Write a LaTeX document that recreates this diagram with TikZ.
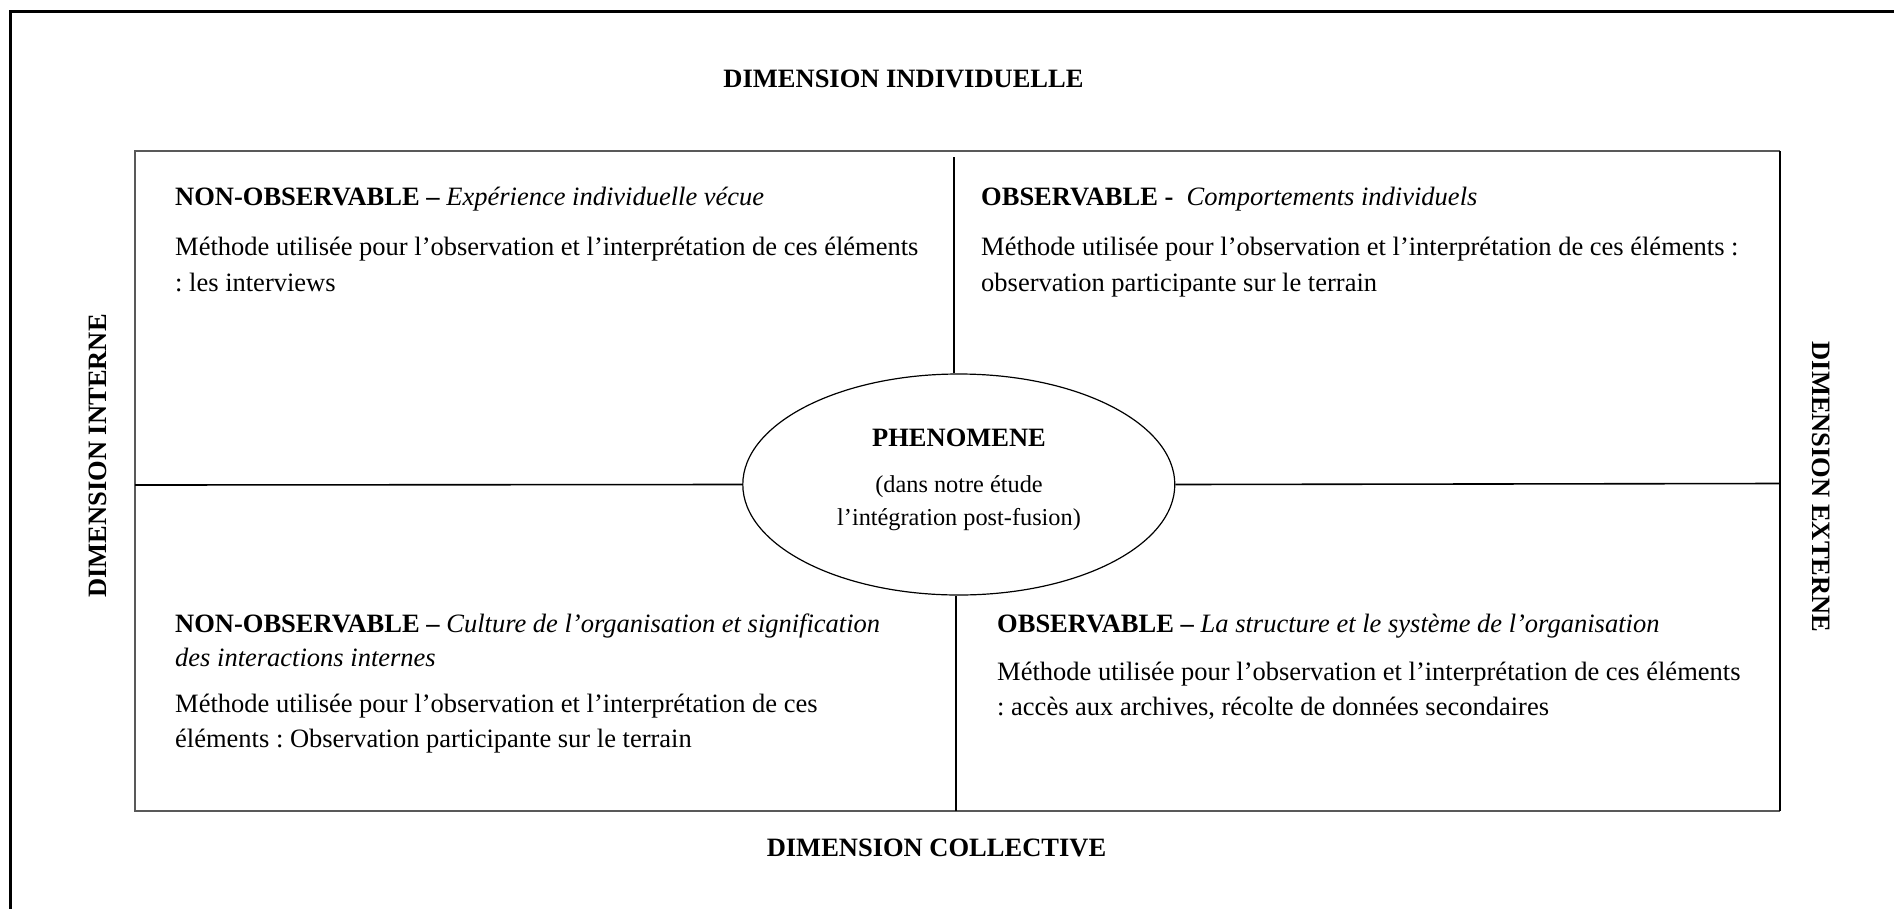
\documentclass[tikz,border=0pt]{standalone}
\usepackage{fontspec}
\setmainfont{Liberation Serif}
\usetikzlibrary{shapes.geometric}
\frenchspacing
\begin{document}
\begin{tikzpicture}[x=1pt,y=-1pt,
  frame/.style={line width=3pt, line cap=rect},
  boxline/.style={line width=1.6pt, draw=black!65},
  divline/.style={line width=1.6pt, draw=black},
  txt/.style={anchor=base west, inner sep=0pt, font=\fontsize{26.5}{35}\selectfont},
  dimlab/.style={anchor=base, inner sep=0pt, font=\fontsize{26.5}{30}\selectfont\bfseries},
  phtxt/.style={anchor=base, inner sep=0pt, font=\fontsize{24.3}{28}\selectfont},
  phbold/.style={anchor=base, inner sep=0pt, font=\fontsize{26.5}{30}\selectfont\bfseries},
  ell/.style={ellipse, draw, line width=1.2pt, inner sep=0pt, minimum width=432pt, minimum height=221pt}
]
\useasboundingbox (0,0) rectangle (1894,908);

% outer frame (only top and left visible)
\coordinate (oBL) at (10,912);
\coordinate (oTL) at (10,11);
\coordinate (oTR) at (1898,11);
\draw[frame] (oBL) -- (oTL) -- (oTR);

% inner box
\coordinate (bTL) at (135,151);
\coordinate (bTR) at (1780,151);
\coordinate (bBR) at (1780,811);
\coordinate (bBL) at (135,811);
\draw[boxline] (bTR) -- (bTL) -- (bBL) -- (bBR);
\draw[divline] (bTR) -- (bBR);

% ellipse
\node[ell] (ph) at (958.8,484.5) {};

% dividers
\coordinate (vTop) at (954,157);
\coordinate (vBot) at (956,811);
\coordinate (hL) at (135,485);
\coordinate (hR) at (1780,483.5);
\draw[divline] (vTop) -- (vTop |- ph.north);
\draw[divline] (vBot) -- (vBot |- ph.south);
\draw[divline] (hL) -- (ph.west);
\draw[divline] (ph.east) -- (hR);

% ellipse text
\node[phbold] (phA) at (959,446) {PHENOMENE};
\node[phtxt] (phB) at (959,492.5) {(dans notre étude};
\node[phtxt] (phC) at (959,525) {l’intégration post-fusion)};

% dimension labels
\node[dimlab] (dTop) at (903.5,87) {DIMENSION INDIVIDUELLE};
\node[dimlab] (dBot) at (936.5,856) {DIMENSION COLLECTIVE};
\node[dimlab, rotate=90] (dLeft) at (106,456) {DIMENSION INTERNE};
\node[dimlab, rotate=-90] (dRight) at (1812,487) {DIMENSION EXTERNE};

% quadrant 1
\node[txt] (q1t) at (175,205) {\textbf{NON-OBSERVABLE –} \textit{Expérience individuelle vécue}};
\node[txt] (q1a) at (175,255.5) {Méthode utilisée pour l’observation et l’interprétation de ces éléments};
\node[txt] (q1b) at (175,291) {: les interviews};

% quadrant 2
\node[txt] (q2t) at (981,205) {\textbf{OBSERVABLE -}\ \ \textit{Comportements individuels}};
\node[txt] (q2a) at (981,255.5) {Méthode utilisée pour l’observation et l’interprétation de ces éléments :};
\node[txt] (q2b) at (981,291) {observation participante sur le terrain};

% quadrant 3
\node[txt] (q3t) at (175,632) {\textbf{NON-OBSERVABLE –} \textit{Culture de l’organisation et signification}};
\node[txt] (q3u) at (175,666.5) {\textit{des interactions internes}};
\node[txt] (q3a) at (175,712) {Méthode utilisée pour l’observation et l’interprétation de ces};
\node[txt] (q3b) at (175,747) {éléments : Observation participante sur le terrain};

% quadrant 4
\node[txt] (q4t) at (997,632) {\textbf{OBSERVABLE –} \textit{La structure et le système de l’organisation}};
\node[txt] (q4a) at (997,680) {Méthode utilisée pour l’observation et l’interprétation de ces éléments};
\node[txt] (q4b) at (997,715) {: accès aux archives, récolte de données secondaires};
\end{tikzpicture}
\end{document}
